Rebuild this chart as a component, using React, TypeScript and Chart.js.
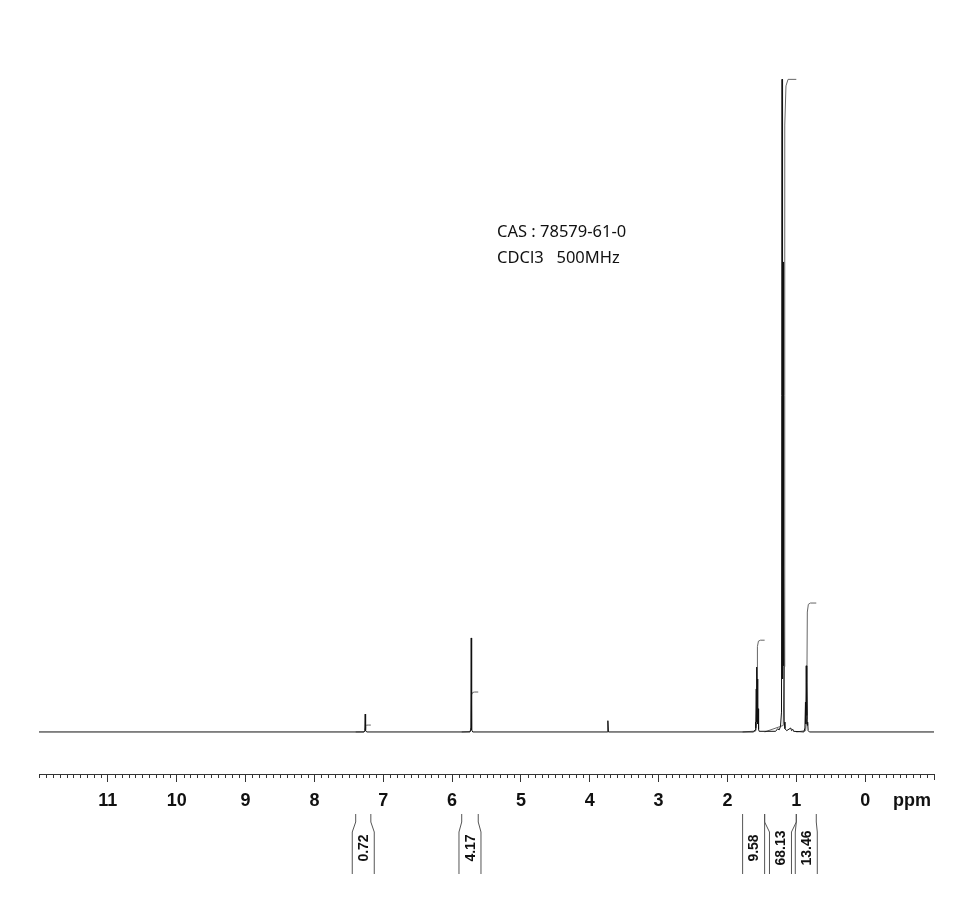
import React, { useEffect, useRef } from 'react';
import { Chart, registerables } from 'chart.js';

Chart.register(...registerables);

// ---- axis ----
const xTickValues = [11, 10, 9, 8, 7, 6, 5, 4, 3, 2, 1, 0];
const xTickLabels = ['11', '10', '9', '8', '7', '6', '5', '4', '3', '2', '1', '0'];
const unitLabel = 'ppm';
const unitLabelPos = -0.68;
const xMin = -1;
const xMax = 12;

// ---- spectrum (ppm, intensity) ----
const spectrumPpm = [
  12.0, 7.28, 7.268, 7.262, 7.256, 7.24,
  5.74, 5.728, 5.722, 5.716, 5.70,
  3.745, 3.737, 3.729,
  1.62, 1.60, 1.592, 1.588, 1.582, 1.578, 1.573, 1.568, 1.563, 1.558, 1.553, 1.548, 1.54,
  1.30, 1.27, 1.25, 1.23, 1.215, 1.207, 1.200, 1.193, 1.188, 1.182, 1.176, 1.165, 1.14, 1.08, 1.07, 1.05, 1.04,
  0.89, 0.875, 0.867, 0.862, 0.856, 0.851, 0.845, 0.84, 0.835, 0.828, 0.81,
  -1.0,
];
const spectrumIntensity = [
  0, 0, 0.2, 2.7, 0.2, 0,
  0, 0.3, 14.2, 0.3, 0,
  0, 1.7, 0,
  0, 0.3, 1.5, 0.6, 6.5, 1.5, 9.8, 1.8, 8.0, 1.2, 3.5, 0.4, 0.1,
  0.1, 0.5, 0.3, 0.8, 3, 98.6, 8, 71, 10, 25, 1.5, 0.5, 0.2, 0.6, 0.2, 0.4, 0.1,
  0, 0.6, 4.5, 1.2, 10, 2.5, 7.5, 1, 1.5, 0.2, 0,
  0,
];

// ---- integrals ----
const integralStart = [7.40, 5.86, 1.78, 1.46, 1.00];
const integralEnd = [7.18, 5.62, 1.46, 1.00, 0.71];
const integralRise = [7.26, 5.72, 1.57, 1.17, 0.845];
const integralValues = [0.72, 4.17, 9.58, 68.13, 13.46];
const integralLabels = ['0.72', '4.17', '9.58', '68.13', '13.46'];
const integralScale = 1.447; // intensity units per integral unit

// ---- annotation text ----
const infoLines = ['CAS : 78579-61-0', 'CDCl3   500MHz'];

function integralPoints(i: number) {
  const h = integralValues[i] * integralScale;
  const r = integralRise[i];
  return [
    { x: integralStart[i], y: 0 },
    { x: r + 0.02, y: 0.01 * h },
    { x: r + 0.005, y: 0.1 * h },
    { x: r, y: 0.5 * h },
    { x: r - 0.005, y: 0.93 * h },
    { x: r - 0.02, y: 0.99 * h },
    { x: r - 0.05, y: h },
    { x: integralEnd[i], y: h },
  ];
}

const decorPlugin = {
  id: 'nmrDecor',
  afterDraw(chart: any) {
    const ctx = chart.ctx as CanvasRenderingContext2D;
    const xs = chart.scales.x;
    const bottom = chart.chartArea.bottom;
    ctx.save();
    // minor ticks
    ctx.strokeStyle = '#333';
    ctx.lineWidth = 1;
    ctx.beginPath();
    for (let i = Math.round(xMin * 10); i <= Math.round(xMax * 10); i++) {
      if (i % 10 === 0 && i !== xMin * 10 && i !== xMax * 10) continue;
      const px = Math.round(xs.getPixelForValue(i / 10)) + 0.5;
      const len = i === xMin * 10 ? 6 : 4;
      ctx.moveTo(px, bottom);
      ctx.lineTo(px, bottom + len);
    }
    ctx.stroke();

    // integral label brackets
    const top = bottom + 40;
    const kink1 = bottom + 48;
    const kink2 = bottom + 58;
    const end = bottom + 100;
    const half = 11;
    ctx.strokeStyle = '#555';
    for (let i = 0; i < integralValues.length; i++) {
      const xa = xs.getPixelForValue(integralStart[i]);
      const xb = xs.getPixelForValue(integralEnd[i]);
      const c = (xa + xb) / 2;
      ctx.beginPath();
      ctx.moveTo(xa, top);
      ctx.lineTo(xa, kink1);
      ctx.lineTo(c - half, kink2);
      ctx.lineTo(c - half, end);
      ctx.moveTo(xb, top);
      ctx.lineTo(xb, kink1);
      ctx.lineTo(c + half, kink2);
      ctx.lineTo(c + half, end);
      ctx.stroke();
      ctx.save();
      ctx.translate(c + 1, bottom + 74);
      ctx.rotate(-Math.PI / 2);
      ctx.fillStyle = '#111';
      ctx.font = 'bold 14px "Liberation Sans", Arial, sans-serif';
      ctx.textAlign = 'center';
      ctx.textBaseline = 'middle';
      ctx.fillText(integralLabels[i], 0, 0);
      ctx.restore();
    }

    // info text
    ctx.fillStyle = '#111';
    ctx.font = '16.5px "Noto Sans", "Open Sans", sans-serif';
    ctx.textAlign = 'left';
    ctx.textBaseline = 'alphabetic';
    infoLines.forEach((t, k) => {
      ctx.fillText(t, chart.chartArea.left + 458, 237 + k * 26);
    });
    ctx.restore();
  },
};

export default function App() {
  const ref = useRef<HTMLCanvasElement | null>(null);
  useEffect(() => {
    if (!ref.current) return;
    const datasets: any[] = [
      {
        label: 'spectrum',
        data: spectrumPpm.map((p, i) => ({ x: p, y: spectrumIntensity[i] })),
        borderColor: '#111',
        borderWidth: 1,
        pointRadius: 0,
        tension: 0,
      },
    ];
    integralValues.forEach((_, i) => {
      datasets.push({
        label: 'integral ' + integralLabels[i],
        data: integralPoints(i),
        borderColor: '#666',
        borderWidth: 1,
        pointRadius: 0,
        tension: 0,
      });
    });
    const chart = new Chart(ref.current, {
      type: 'line',
      data: { datasets },
      options: {
        responsive: false,
        animation: false,
        parsing: false as any,
        layout: { padding: { left: 39, right: 37, top: 70, bottom: 105 } },
        plugins: { legend: { display: false }, tooltip: { enabled: false } },
        scales: {
          x: {
            type: 'linear',
            reverse: true,
            min: xMin,
            max: xMax,
            afterBuildTicks: (s: any) => {
              s.ticks = [...xTickValues.map((v) => ({ value: v })), { value: unitLabelPos }];
            },
            afterFit: (s: any) => {
              s.height = 40;
            },
            ticks: {
              autoSkip: false,
              maxRotation: 0,
              minRotation: 0,
              padding: 8,
              color: '#111',
              font: { family: '"Liberation Sans", Arial, sans-serif', size: 18, weight: 'bold' },
              callback: (v: any) => {
                if (v === unitLabelPos) return unitLabel;
                const idx = xTickValues.indexOf(v);
                return idx >= 0 ? xTickLabels[idx] : '';
              },
            },
            grid: {
              drawOnChartArea: false,
              drawTicks: true,
              tickLength: 8,
              lineWidth: 1,
              tickColor: (c: any) => (c.tick && c.tick.value === unitLabelPos ? 'rgba(0,0,0,0)' : '#333'),
            },
            border: { display: true, color: '#333', width: 1 },
          } as any,
          y: { display: false, min: -6.35, max: 100 },
        },
      },
      plugins: [decorPlugin],
    });
    return () => chart.destroy();
  }, []);
  return (
    <div style={{ position: 'absolute', left: 0, top: 0, width: 971, height: 919, background: '#fff' }}>
      <canvas ref={ref} width={971} height={919} />
    </div>
  );
}
